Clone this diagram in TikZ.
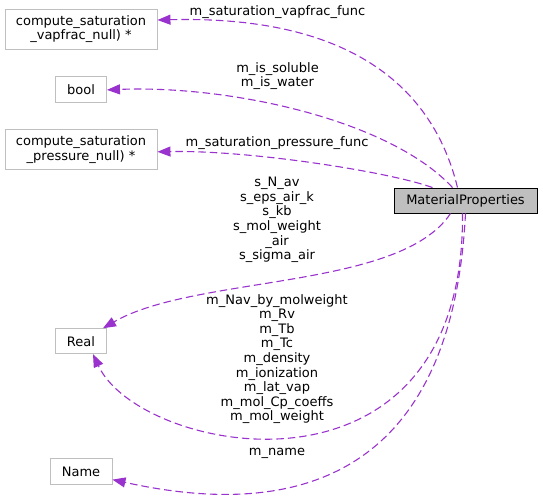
\documentclass[tikz,border=0pt]{standalone}
\usepackage{fontspec}
\setmainfont{DejaVu Sans}
\usepackage{tikz}
\usetikzlibrary{arrows.meta, positioning}

\definecolor{edgepurple}{HTML}{9A32CD}
\definecolor{boxgray}{HTML}{BFBFBF}

\begin{document}
\begin{tikzpicture}[
  x=1pt, y=-1pt,
  every node/.style={font=\fontsize{13}{14.6}\selectfont},
  box/.style={draw=boxgray, line width=0.9pt, align=center, inner sep=0pt, minimum height=26pt},
  mainbox/.style={draw=black, fill=boxgray, line width=0.9pt, inner sep=0pt, minimum width=143pt, minimum height=25pt},
  lbl/.style={align=center, inner sep=0pt},
  member/.style={draw=edgepurple, line width=1.1pt, dash pattern=on 7.5pt off 4pt, -{Triangle[length=13pt, width=10pt]}},
]
  \useasboundingbox (0,0) rectangle (543,501);

  % left column
  \node[box, minimum width=152pt, minimum height=40pt] (vapfrac) at (81,29) {compute\_saturation\\\_vapfrac\_null) *};
  \node[box, minimum width=51pt, below=27pt of vapfrac] (bool) {bool};
  \node[box, minimum width=152pt, minimum height=40pt, below=26pt of bool] (pressure) {compute\_saturation\\\_pressure\_null) *};
  \node[box, minimum width=51pt, minimum height=25pt, below=158pt of pressure] (real) {Real};
  \node[box, minimum width=62pt, below=104pt of real] (name) {Name};

  \node[mainbox] (mp) at (465.5,200.5) {MaterialProperties};

  % edge labels
  \node[lbl] (lvapfrac) at (277.5,12) {m\_saturation\_vapfrac\_func};
  \node[lbl] (lbool) at (277.5,76) {m\_is\_soluble\\m\_is\_water};
  \node[lbl] (lpressure) at (277,143) {m\_saturation\_pressure\_func};
  \node[lbl] (lstatic) at (277,220) {s\_N\_av\\s\_eps\_air\_k\\s\_kb\\s\_mol\_weight\\\_air\\s\_sigma\_air};
  \node[lbl] (lmember) at (277,359) {m\_Nav\_by\_molweight\\m\_Rv\\m\_Tb\\m\_Tc\\m\_density\\m\_ionization\\m\_lat\_vap\\m\_mol\_Cp\_coeffs\\m\_mol\_weight};
  \node[lbl] (lname) at (277,453) {m\_name};

  % members
  \draw[member] ([xshift=-8pt]mp.north) .. controls (435,95) and (360,15) .. ([yshift=9pt]vapfrac.east);
  \draw[member] ([xshift=-13pt]mp.north) .. controls (390,120) and (230,85) .. (bool.east);
  \draw[member] ([xshift=-33pt]mp.north) .. controls (390,172) and (250,150) .. ([yshift=-2pt]pressure.east);
  \draw[member] ([xshift=-15pt]mp.south) .. controls (400,290) and (195,275) .. ([xshift=-4pt]real.north east);
  \draw[member] ([xshift=-3pt]mp.south) .. controls (465,518) and (140,455) .. ([xshift=12pt]real.south);
  \draw[member] (mp.south) .. controls (450,515) and (250,510) .. ([yshift=-8pt]name.east);
\end{tikzpicture}
\end{document}
